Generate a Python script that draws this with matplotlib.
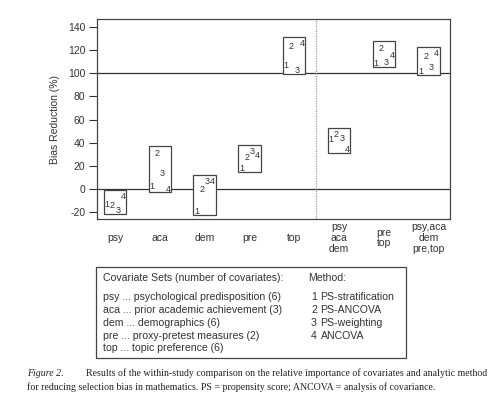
import matplotlib
matplotlib.use("Agg")
import matplotlib.pyplot as plt
from matplotlib.patches import Rectangle
from matplotlib.transforms import blended_transform_factory

plt.rcParams['font.family'] = ['Liberation Sans', 'DejaVu Sans']

categories = ['psy', 'aca', 'dem', 'pre', 'top', 'psy\naca\ndem', 'pre\ntop', 'psy,aca\ndem\npre,top']
m1_strat = [-13, 2, -19.6, 17.9, 106.3, 43.2, 108.6, 101.4]
m2_psancova = [-14.5, 30.8, -0.3, 27.4, 123, 46.7, 121.6, 114.4]
m3_weight = [-18.5, 13.5, 6.3, 32, 102.8, 43.8, 109.2, 104.8]
m4_ancova = [-6.5, 0, 6.3, 28.8, 125.3, 34.3, 115.2, 116.7]
method_ids = ['1', '2', '3', '4']
yticks = [-20, 0, 20, 40, 60, 80, 100, 120, 140]

cov_title = 'Covariate Sets (number of covariates):'
cov_lines = ['psy ... psychological predisposition (6)',
             'aca ... prior academic achievement (3)',
             'dem ... demographics (6)',
             'pre ... proxy-pretest measures (2)',
             'top ... topic preference (6)']
meth_title = 'Method:'
meth_names = ['PS-stratification', 'PS-ANCOVA', 'PS-weighting', 'ANCOVA']

W, H = 501, 399
fig = plt.figure(figsize=(W / 100, H / 100), dpi=100)
fig.patch.set_facecolor('white')

def fx(px):
    return px / W

def fy(py):
    return 1 - py / H

ax = fig.add_axes([fx(97), fy(219), fx(450) - fx(97), fy(19) - fy(219)])
dark = '#333333'
ax.set_xlim(0.598, 8.478)
ax.set_ylim(-25.9, 146.9)
ax.set_yticks(yticks)
ax.set_yticklabels([str(t) for t in yticks], fontsize=7.5, color=dark)
ax.tick_params(axis='y', length=5.8, width=0.8, pad=2.5, color=dark)
ax.set_xticks([])
for s in ax.spines.values():
    s.set_color('#444444')
    s.set_linewidth(0.9)
ax.set_ylabel('Bias Reduction (%)', fontsize=7.5, color=dark, labelpad=6)

ax.axhline(0, color=dark, lw=0.9, zorder=1)
ax.axhline(100, color=dark, lw=0.9, zorder=1)
ax.axvline(5.48, color='#999999', lw=0.9, linestyle=(0, (1, 1)), zorder=1)

series = [m1_strat, m2_psancova, m3_weight, m4_ancova]
offsets = [-0.18, -0.06, 0.06, 0.18]
half_w = 0.25
for i, cat in enumerate(categories):
    x = i + 1
    vals = [s[i] for s in series]
    lo, hi = min(vals) - 3, max(vals) + 6
    ax.add_patch(Rectangle((x - half_w, lo), 2 * half_w, hi - lo,
                           facecolor='white', edgecolor='#444444', lw=0.9, zorder=2))
    for k, v in enumerate(vals):
        ax.text(x + offsets[k], v, method_ids[k], ha='center', va='center',
                fontsize=6.5, color=dark, zorder=3)

trans = blended_transform_factory(ax.transData, ax.transAxes)
for i, cat in enumerate(categories):
    ax.text(i + 1, -0.095, cat, transform=trans, ha='center', va='center',
            fontsize=7.5, color=dark, linespacing=1.1)

# legend box
fig.patches.append(Rectangle((fx(96), fy(357.7)), fx(406) - fx(96), fy(266.7) - fy(357.7),
                             transform=fig.transFigure, facecolor='none',
                             edgecolor='#444444', lw=0.9))
fig.text(fx(103), fy(278), cov_title, fontsize=7.6, color=dark, va='center')
for j, line in enumerate(cov_lines):
    fig.text(fx(103), fy(297.3 + j * 12.75), line, fontsize=7.6, color=dark, va='center')
fig.text(fx(308), fy(278), meth_title, fontsize=7.6, color=dark, va='center')
for j, name in enumerate(meth_names):
    y = fy(297.3 + j * 12.75)
    fig.text(fx(311), y, method_ids[j], fontsize=7.6, color=dark, va='center')
    fig.text(fx(320.5), y, name, fontsize=7.6, color=dark, va='center')

# caption
serif = ['Liberation Serif', 'DejaVu Serif']
fig.text(fx(27), fy(373), 'Figure 2.', fontsize=7.15, style='italic',
         family=serif, va='center', color='#222222')
fig.text(fx(85.5), fy(373),
         'Results of the within-study comparison on the relative importance of covariates and analytic method',
         fontsize=7.15, family=serif, va='center', color='#222222')
fig.text(fx(27), fy(387),
         'for reducing selection bias in mathematics. PS = propensity score; ANCOVA = analysis of covariance.',
         fontsize=7.15, family=serif, va='center', color='#222222')

fig.savefig('out.png', dpi=100, facecolor='white')
